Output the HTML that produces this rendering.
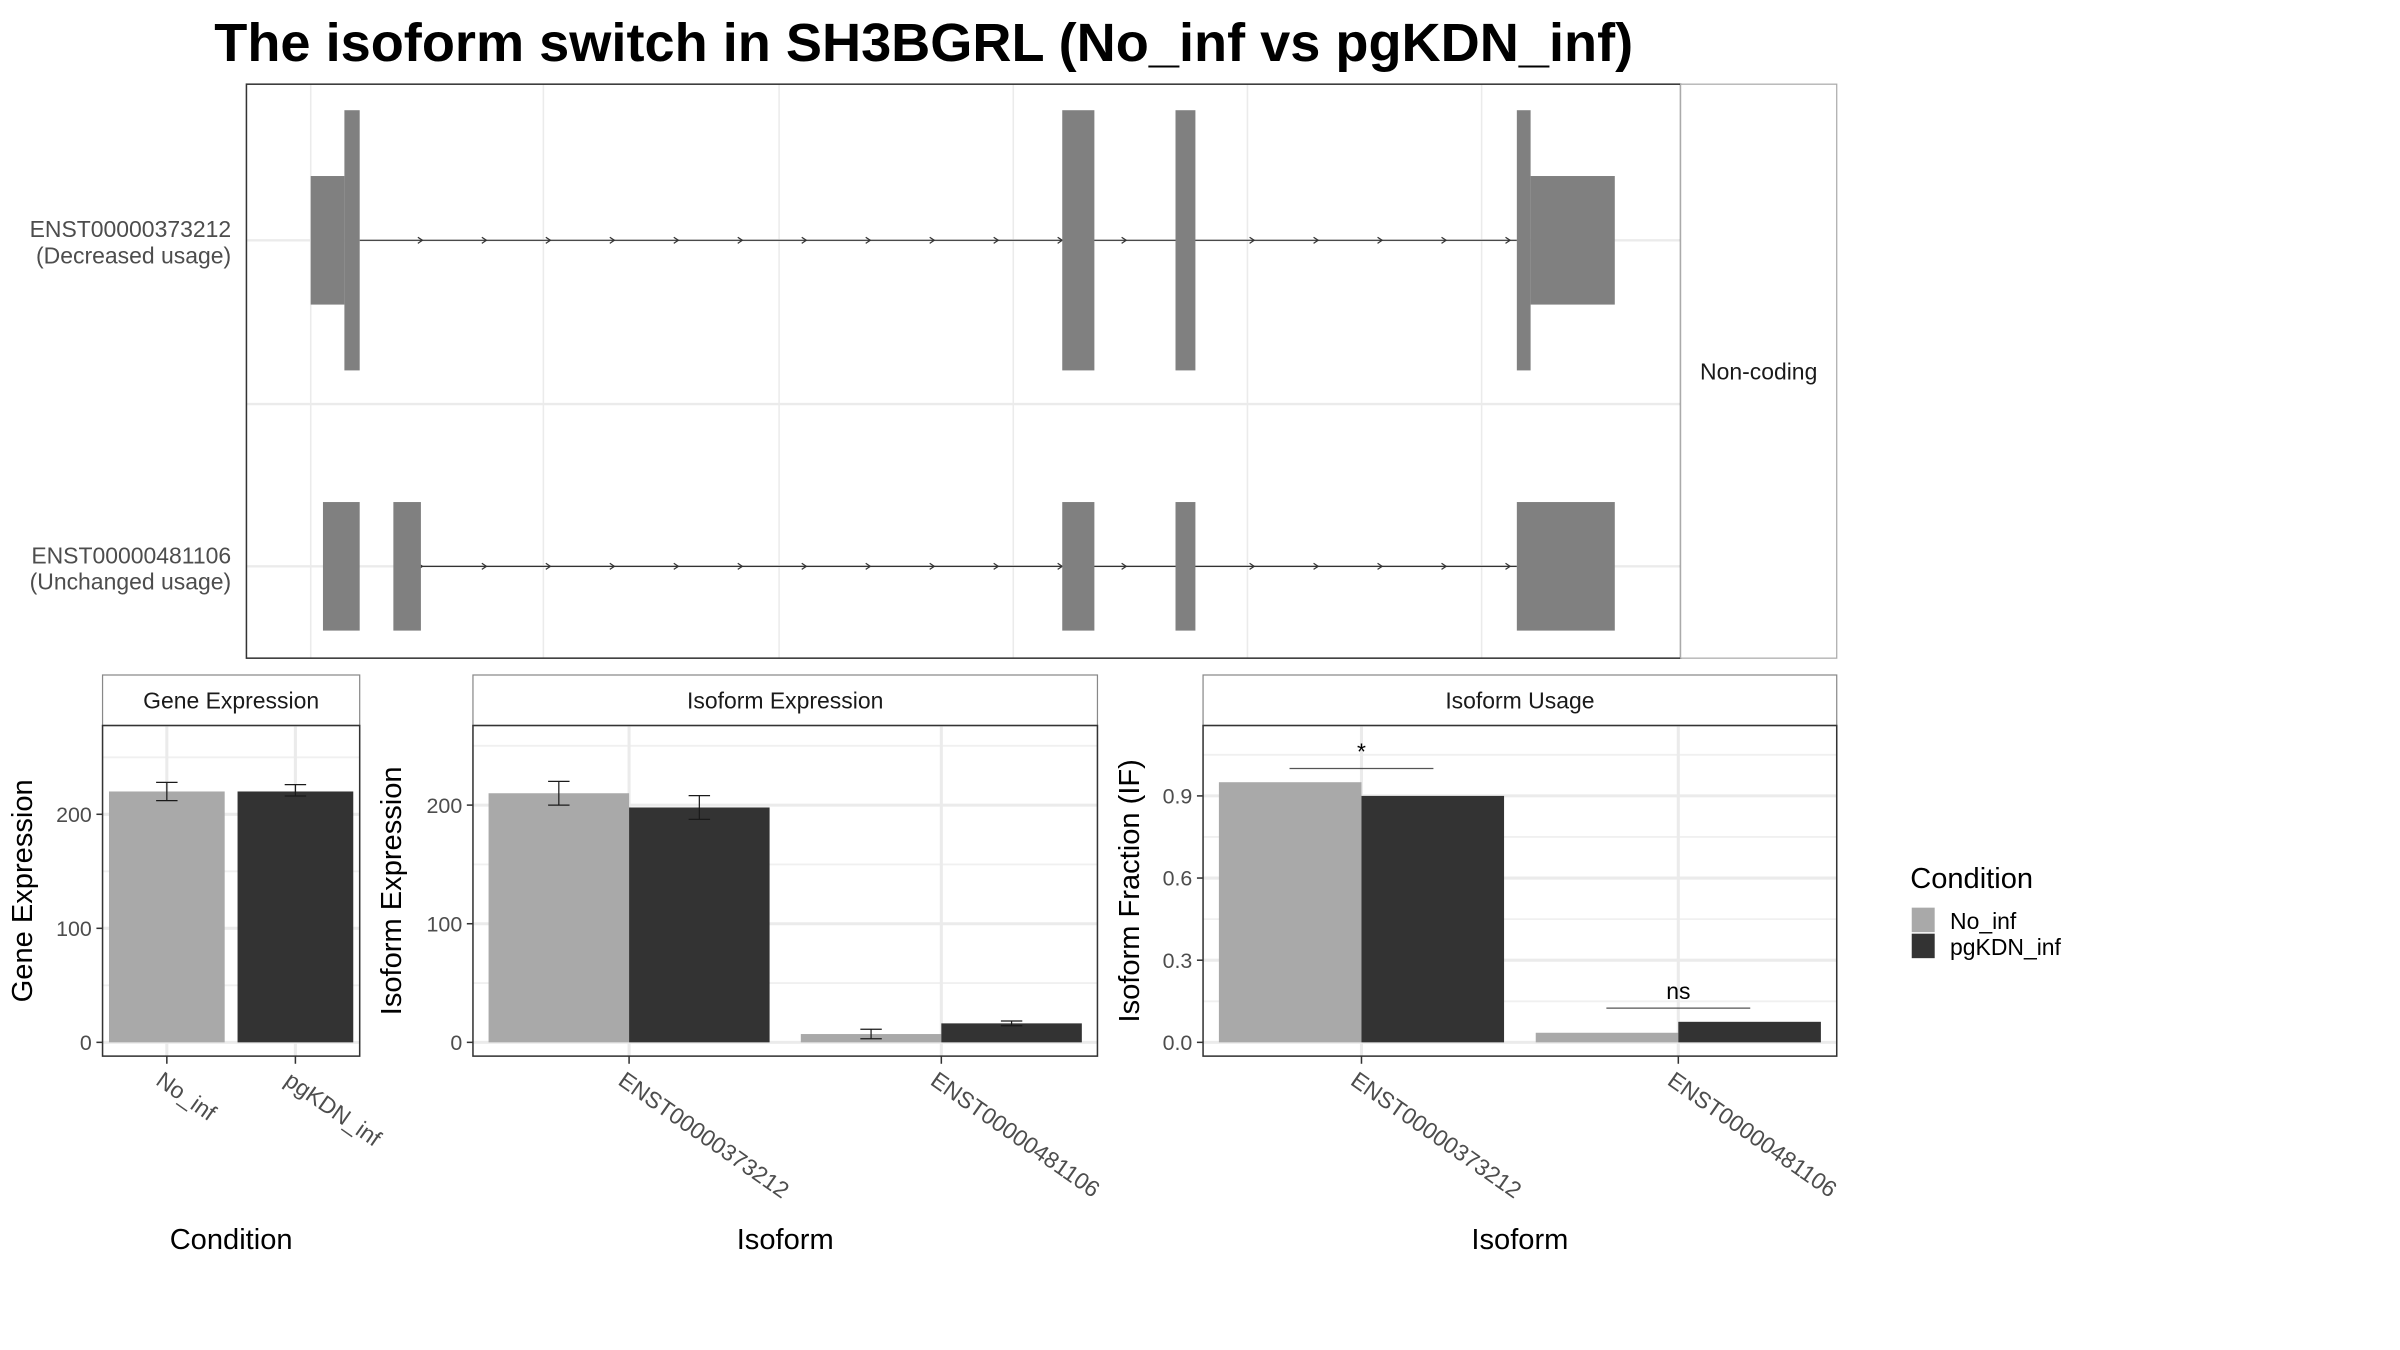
<!DOCTYPE html>
<html><head><meta charset="utf-8"><style>
html,body{margin:0;padding:0;background:#fff}
svg{display:block}
text{font-family:"Liberation Sans",sans-serif}
</style></head><body>
<svg id="chart" width="2400" height="1350" viewBox="0 0 1568 882" xmlns="http://www.w3.org/2000/svg">
<rect width="1568" height="882" fill="#fff"/>
<text x="140" y="40" font-size="35" font-weight="bold" textLength="927" lengthAdjust="spacingAndGlyphs">The isoform switch in SH3BGRL (No_inf vs pgKDN_inf)</text>
<g id="top"></g>
<g id="p1"></g>
<g id="p2"></g>
<g id="p3"></g>
<g id="legend">
<text x="1248" y="580" font-size="19">Condition</text>
<rect x="1249" y="593" width="15" height="16" fill="#a9a9a9"/>
<rect x="1249" y="610" width="15" height="16" fill="#333"/>
<text x="1274" y="607" font-size="15">No_inf</text>
<text x="1274" y="624" font-size="15">pgKDN_inf</text>
</g>
</svg>
<script>
const NS="http://www.w3.org/2000/svg";
function mk(p,tag,a,txt){const e=document.createElementNS(NS,tag);for(const k in a)e.setAttribute(k,a[k]);if(txt!==undefined)e.textContent=txt;p.appendChild(e);return e;}

// ---- data ----
const conditions=["No_inf","pgKDN_inf"];
const isoforms=["ENST00000373212","ENST00000481106"];
const geneExpr=[220,220];
const geneErrLo=[212,216];
const geneErrHi=[228,226];
const isoExprNoInf=[210,7];
const isoExprPgkdn=[198,16];
const isoErrNoInf=[10,4];
const isoErrPgkdn=[10,2];
const ifNoInf=[0.95,0.035];
const ifPgkdn=[0.90,0.075];
const sigLabels=["*","ns"];
const geneTicks=[0,100,200];
const isoTicks=[0,100,200];
const ifTicks=[0,0.3,0.6,0.9];
const ifTickLabels=["0.0","0.3","0.6","0.9"];

const colors=["#a9a9a9","#333333"];

// ---- top transcript panel ----
const topG=document.getElementById('top');
mk(topG,'rect',{x:161,y:55,width:937,height:375,fill:'#fff',stroke:'none'});
[203,355,509,662,815,968].forEach(x=>{const l=mk(topG,'line',{x1:x,x2:x,y1:55,y2:430,stroke:'#ebebeb','stroke-width':1});});
[157,264,370].forEach(y=>{const l=mk(topG,'line',{x1:161,x2:1098,y1:y,y2:y,stroke:'#ebebeb','stroke-width':1.5});});
const tx=[
 {y:157,label:["ENST00000373212","(Decreased usage)"],line:[235,991],ex:[[203,225,115,199],[225,235,72,242],[694,715,72,242],[768,781,72,242],[991,1000,72,242],[1000,1055,115,199]]},
 {y:370,label:["ENST00000481106","(Unchanged usage)"],line:[275,991],ex:[[211,235,328,412],[257,275,328,412],[694,715,328,412],[768,781,328,412],[991,1055,328,412]]}
];
tx.forEach((t,i)=>{
 const ln=mk(topG,'line',{x1:t.line[0],x2:t.line[1],y1:t.y,y2:t.y,stroke:'#333','stroke-width':0.8});
 
 for(let x=276;x<991;x+=41.8){ if(x<t.line[0])continue; const a=mk(topG,'path',{d:`M${x-3},${t.y-2} L${x},${t.y} L${x-3},${t.y+2}`,fill:'none',stroke:'#333','stroke-width':0.8});}
 t.ex.forEach(e=>{const r=mk(topG,'rect',{x:e[0],y:e[2],width:e[1]-e[0],height:e[3]-e[2],fill:'#808080'});});
 const lb=mk(topG,'text',{x:151,y:t.y-2,'font-size':15,fill:'#4d4d4d','text-anchor':'end'});
 
 mk(lb,'tspan',{x:151,dy:0},t.label[0]);mk(lb,'tspan',{x:151,dy:17},t.label[1]);
});
mk(topG,'rect',{x:161,y:55,width:937,height:375,fill:'none',stroke:'#333','stroke-width':1});
const strip=mk(topG,'rect',{x:1098,y:55,width:102,height:375,fill:'#fff',stroke:'#aaa','stroke-width':0.8});

const nc=mk(topG,'text',{x:1149,y:248,'font-size':15,'text-anchor':'middle',fill:'#1a1a1a'},'Non-coding');


// ---- bar panel helper ----
function panel(g,o){
 const {x0,x1,y0,ppu,title,ticks,tickLabels,minor,xTitle,yTitle,cats,groups}=o;
 const Y=v=>y0-v*ppu;
 const s=mk(g,'rect',{x:x0,y:441,width:x1-x0,height:33,fill:'#fff',stroke:'#888','stroke-width':0.8});
 
 const st=mk(g,'text',{x:(x0+x1)/2,y:463,'font-size':15,'text-anchor':'middle',fill:'#1a1a1a'},title);
 
 minor.forEach(v=>{const l=mk(g,'line',{x1:x0,x2:x1,y1:Y(v),y2:Y(v),stroke:'#f0f0f0','stroke-width':1.2});});
 ticks.forEach((v,i)=>{
  const l=mk(g,'line',{x1:x0,x2:x1,y1:Y(v),y2:Y(v),stroke:'#ebebeb','stroke-width':2});
  mk(g,'line',{x1:x0-4,x2:x0,y1:Y(v),y2:Y(v),stroke:'#333'});
  const t=mk(g,'text',{x:x0-7,y:Y(v)+5,'font-size':14,'text-anchor':'end',fill:'#4d4d4d'},tickLabels[i]);
  
 });
 const n=cats.length, bw=(x1-x0)/n;
 cats.forEach((c,i)=>{
  const cx=x0+bw*(i+0.5);
  const l=mk(g,'line',{x1:cx,x2:cx,y1:474,y2:690,stroke:'#ebebeb','stroke-width':2});
 });
 cats.forEach((c,i)=>{
  const cx=x0+bw*(i+0.5);
  const gw=bw*0.9, k=groups.length, w=gw/k;
  groups.forEach((gr,j)=>{
   const v=gr.values[i];
   const bx=cx-gw/2+j*w;
   const fill=gr.color||colors[i];
   const r=mk(g,'rect',{x:bx,y:Y(v),width:w,height:y0-Y(v),fill:fill});
   
   if(gr.lo){const ex=bx+w/2,yl=Y(gr.lo[i]),yh=Y(gr.hi[i]);
    const e=mk(g,'path',{d:`M${ex-7},${yh}H${ex+7}M${ex},${yh}V${yl}M${ex-7},${yl}H${ex+7}`,stroke:'#1a1a1a',fill:'none','stroke-width':0.8});
    }
  });
  mk(g,'line',{x1:cx,x2:cx,y1:690,y2:695,stroke:'#333'});
  const t=mk(g,'text',{x:cx-8,y:708,'font-size':15,fill:'#4d4d4d',transform:`rotate(35 ${cx-8} 708)`},c);
  
 });
 const b=mk(g,'rect',{x:x0,y:474,width:x1-x0,height:216,fill:'none',stroke:'#333','stroke-width':1});
 
 const xt=mk(g,'text',{x:(x0+x1)/2,y:816,'font-size':19,'text-anchor':'middle'},xTitle);
 
 const yx=o.yTitleX, yy=582;
 const yt=mk(g,'text',{x:yx,y:yy,'font-size':19,'text-anchor':'middle',transform:`rotate(-90 ${yx} ${yy})`},yTitle);
 
 return {Y,bw};
}

panel(document.getElementById('p1'),{x0:67,x1:235,y0:681,ppu:0.745,title:'Gene Expression',ticks:geneTicks,tickLabels:geneTicks.map(String),minor:[50,150,250],xTitle:'Condition',yTitle:'Gene Expression',yTitleX:21,
 cats:conditions,groups:[{name:'gene',color:null,values:geneExpr,lo:geneErrLo,hi:geneErrHi}]});

panel(document.getElementById('p2'),{x0:309,x1:717,y0:681,ppu:0.775,title:'Isoform Expression',ticks:isoTicks,tickLabels:isoTicks.map(String),minor:[50,150,250],xTitle:'Isoform',yTitle:'Isoform Expression',yTitleX:262,
 cats:isoforms,groups:[
  {name:'no-inf',color:colors[0],values:isoExprNoInf,lo:isoExprNoInf.map((v,i)=>v-isoErrNoInf[i]),hi:isoExprNoInf.map((v,i)=>v+isoErrNoInf[i])},
  {name:'pgkdn-inf',color:colors[1],values:isoExprPgkdn,lo:isoExprPgkdn.map((v,i)=>v-isoErrPgkdn[i]),hi:isoExprPgkdn.map((v,i)=>v+isoErrPgkdn[i])}]});

const g3=document.getElementById('p3');
const p3=panel(g3,{x0:786,x1:1200,y0:681,ppu:178.9,title:'Isoform Usage',ticks:ifTicks,tickLabels:ifTickLabels,minor:[0.15,0.45,0.75,1.05],xTitle:'Isoform',yTitle:'Isoform Fraction (IF)',yTitleX:744,
 cats:isoforms,groups:[{name:'no-inf',color:colors[0],values:ifNoInf},{name:'pgkdn-inf',color:colors[1],values:ifPgkdn}]});
isoforms.forEach((c,i)=>{
 const cx=786+p3.bw*(i+0.5);
 const tv=Math.max(ifNoInf[i],ifPgkdn[i])+0.05;
 const y=p3.Y(tv);
 const l=mk(g3,'line',{x1:cx-47,x2:cx+47,y1:y,y2:y,stroke:'#555','stroke-width':0.8});
 
 const t=mk(g3,'text',{x:cx,y:y-6,'font-size':15,'text-anchor':'middle'},sigLabels[i]);
 
});
</script>
</body></html>
